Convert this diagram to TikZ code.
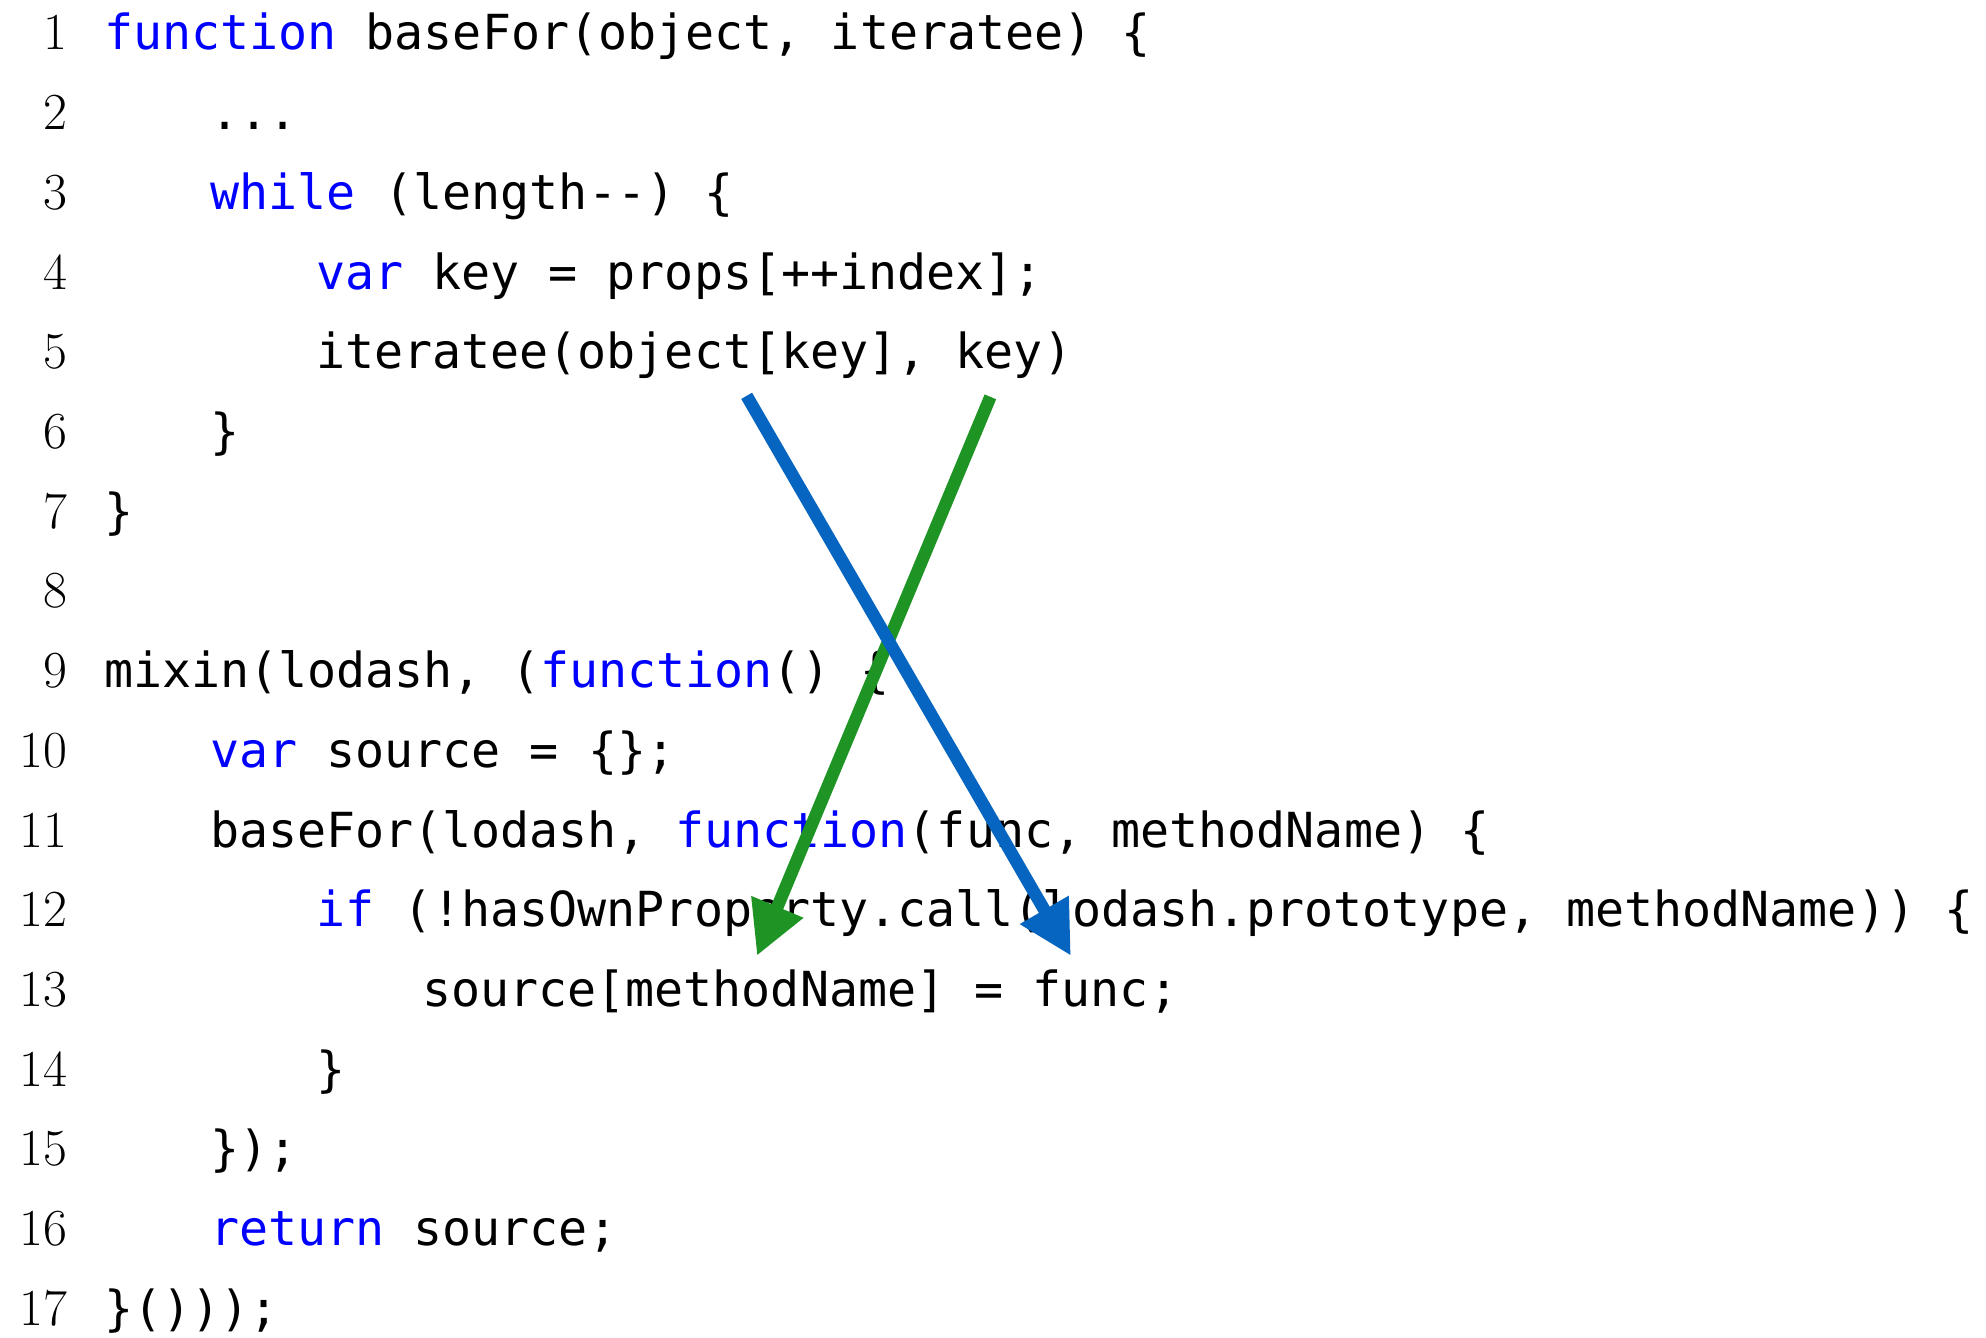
\documentclass[tikz,border=0pt]{standalone}
\usepackage{fontspec}
\usetikzlibrary{arrows.meta}
\newfontfamily\codefont[Ligatures=TeXOff]{DejaVu Sans Mono}
\definecolor{kwblue}{RGB}{0,0,255}
\definecolor{flowblue}{RGB}{5,101,192}
\definecolor{flowgreen}{RGB}{30,148,36}
\newcommand\kw[1]{\textcolor{kwblue}{#1}}
\frenchspacing
\tikzset{
  code/.style={anchor=base west, inner sep=0pt, outer sep=0pt,
    font=\codefont\fontsize{24.15}{24.15}\selectfont},
  lnum/.style={anchor=base east, inner sep=0pt, outer sep=0pt,
    font=\fontsize{26}{26}\selectfont},
  flow/.style={line width=6.25pt, line cap=butt,
    -{Triangle[length=26.5pt,width=26.5pt]}},
}
\begin{document}
\begin{tikzpicture}[x=0.5pt,y=-0.5pt]
\fill[white] (0,0) rectangle (1986,1338);
\useasboundingbox (0,0) rectangle (1986,1338);

% line numbers
\foreach \n in {1,...,17}
  \node[lnum] (n\n) at (67,{50+(\n-1)*79.7}) {\n};

% indentation levels: 104, 210, 316, 422; one column = 29.08
\node[code] (c1)  at (104,50)     {\kw{function} baseFor(object, iteratee) \{};
\node[code] (c2)  at (210,129.7)  {...};
\node[code] (c3)  at (210,209.4)  {\kw{while} (length--) \{};
\node[code] (c4)  at (316,289.1)  {\kw{var} key = props[++index];};
\node[code] (c5)  at (316,368.8)  {iteratee(};
\node[code] (objkey) at ({316+9*29.08},368.8)  {object[key]};
\node[code] (c5b) at ({316+20*29.08},368.8) {,};
\node[code] (keyarg) at ({316+22*29.08},368.8) {key};
\node[code] (c5c) at ({316+25*29.08},368.8) {)};
\node[code] (c6)  at (210,448.5)  {\}};
\node[code] (c7)  at (104,528.2)  {\}};
\node[code] (c9)  at (104,687.6)  {mixin(lodash, (\kw{function}() \{};
\node[code] (c10) at (210,767.3)  {\kw{var} source = \{\};};
\node[code] (c11) at (210,847)    {baseFor(lodash, \kw{function}(func, methodName) \{};
\node[code] (c12) at (316,926.7)  {\kw{if} (!hasOwnProperty.call(lodash.prototype, methodName)) \{};
\node[code] (c13) at (422,1006.4) {source[};
\node[code] (mname) at ({422+7*29.08},1006.4) {methodName};
\node[code] (c13b) at ({422+17*29.08},1006.4) {] =};
\node[code] (func) at ({422+21*29.08},1006.4) {func};
\node[code] (c13c) at ({422+25*29.08},1006.4) {;};
\node[code] (c14) at (316,1086.1) {\}};
\node[code] (c15) at (210,1165.8) {\});};
\node[code] (c16) at (210,1245.5) {\kw{return} source;};
\node[code] (c17) at (104,1325.2) {\}()));};

% data flow: key -> methodName, object[key] -> func
\draw[flow, draw=flowgreen, fill=flowgreen]
  ([shift={(-9,18)}]keyarg.south) -- ([shift={(-14,-14)}]mname.north);
\draw[flow, draw=flowblue, fill=flowblue]
  ([shift={(9,17)}]objkey.south) -- ([shift={(-20,-14)}]func.north);
\end{tikzpicture}
\end{document}
